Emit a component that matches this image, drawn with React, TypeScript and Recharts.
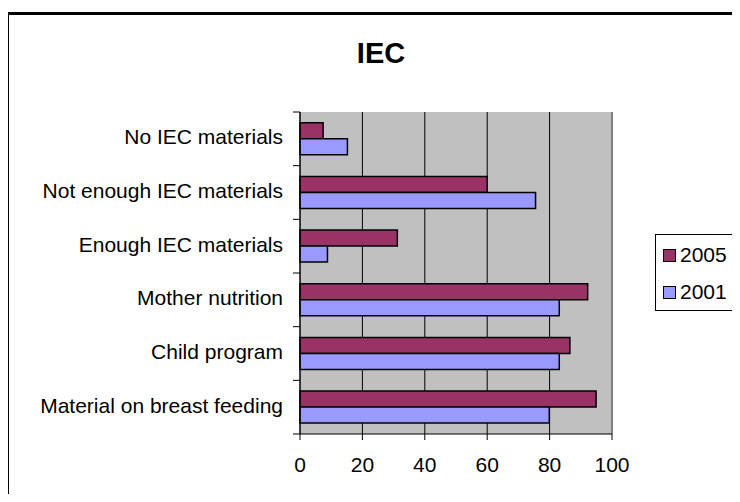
import { BarChart, Bar, XAxis, YAxis, CartesianGrid, ReferenceLine } from 'recharts';

// categories top -> bottom as they appear in the picture
const categories = [
    'No IEC materials',
    'Not enough IEC materials',
    'Enough IEC materials',
    'Mother nutrition',
    'Child program',
    'Material on breast feeding',
];
const values2005 = [7.4, 60, 31.2, 92.2, 86.5, 94.9];
const values2001 = [15.2, 75.5, 8.8, 83.1, 83.1, 79.9];
const xTicks = [0, 20, 40, 60, 80, 100];

const seriesNames = ['2005', '2001'];
const seriesColors = ['#993366', '#9999FF'];

const data = categories.map((name, i) => ({ name, y2005: values2005[i], y2001: values2001[i] }));

const FONT = 'Arial, "Liberation Sans", sans-serif';
const W = 740;
const H = 502;
const TOP = 112;
const BOTTOM = 68;
const LEFT = 300;
const RIGHT = 128;
const BAND = (H - TOP - BOTTOM) / categories.length;

// Excel puts the category ticks between the bands, not on their centres
const CategoryTick = (props: any) => {
    const { x, y, payload, index } = props;
    const last = index === categories.length - 1;
    return (
        <g>
            <line x1={LEFT - 7} x2={LEFT} y1={y - BAND / 2} y2={y - BAND / 2} stroke="#000" />
            {last && <line x1={LEFT - 7} x2={LEFT} y1={y + BAND / 2} y2={y + BAND / 2} stroke="#000" />}
            <text x={x} y={y - 2} dy="0.36em" textAnchor="end" fontSize={21} fontFamily={FONT} fill="#000">
                {payload.value}
            </text>
        </g>
    );
};

export default function App() {
    return (
        <div style={{ position: 'relative', width: W, height: H, margin: -8, overflow: 'hidden', background: '#fff' }}>
            <div
                style={{
                    position: 'absolute', left: 6, top: 12, width: W, height: H,
                    border: '3px solid #000', boxSizing: 'border-box',
                }}
            />
            <div
                style={{
                    position: 'absolute', left: 0, width: 762, top: 37, textAlign: 'center',
                    fontFamily: FONT, fontWeight: 'bold', fontSize: 29, color: '#000',
                }}
            >
                IEC
            </div>
            <div style={{ position: 'absolute', left: 0, top: 0 }}>
                <BarChart
                    width={W}
                    height={H}
                    data={data}
                    layout="vertical"
                    margin={{ top: TOP, right: RIGHT, bottom: 0, left: 0 }}
                    barCategoryGap="20%"
                    barGap={0}
                >
                    <CartesianGrid horizontal={false} vertical stroke="#000" fill="#C0C0C0" fillOpacity={1} />
                    <XAxis
                        type="number"
                        domain={[0, 100]}
                        ticks={xTicks}
                        interval={0}
                        height={BOTTOM}
                        tickSize={6}
                        tickMargin={17}
                        axisLine={{ stroke: '#000' }}
                        tickLine={{ stroke: '#000' }}
                        tick={{ fontSize: 21, fontFamily: FONT, fill: '#000' }}
                    />
                    <XAxis
                        xAxisId="top"
                        orientation="top"
                        type="number"
                        domain={[0, 100]}
                        height={0}
                        tick={false}
                        tickLine={false}
                        axisLine={{ stroke: '#808080', strokeWidth: 2 }}
                    />
                    <YAxis
                        type="category"
                        dataKey="name"
                        width={LEFT}
                        tickSize={7}
                        tickMargin={10}
                        tickLine={false}
                        interval={0}
                        axisLine={{ stroke: '#000' }}
                        tick={<CategoryTick />}
                    />
                    <ReferenceLine x={100} stroke="#808080" strokeWidth={2} />
                    <Bar dataKey="y2005" name={seriesNames[0]} fill={seriesColors[0]} stroke="#000" strokeWidth={1.5} isAnimationActive={false} />
                    <Bar dataKey="y2001" name={seriesNames[1]} fill={seriesColors[1]} stroke="#000" strokeWidth={1.5} isAnimationActive={false} />
                </BarChart>
            </div>
            {/* legend box at the right, like Excel's */}
            <div
                style={{
                    position: 'absolute', left: 655, top: 234, width: 90, height: 77,
                    border: '1px solid #000', boxSizing: 'border-box', background: '#fff',
                    fontFamily: FONT, fontSize: 21, color: '#000',
                }}
            >
                {seriesNames.map((n, i) => (
                    <div key={n} style={{ position: 'absolute', left: 7, top: 9 + i * 37, display: 'flex', alignItems: 'center', height: 22 }}>
                        <span style={{ display: 'inline-block', width: 11, height: 11, background: seriesColors[i], border: '1.5px solid #000', marginRight: 4 }} />
                        <span>{n}</span>
                    </div>
                ))}
            </div>
        </div>
    );
}
